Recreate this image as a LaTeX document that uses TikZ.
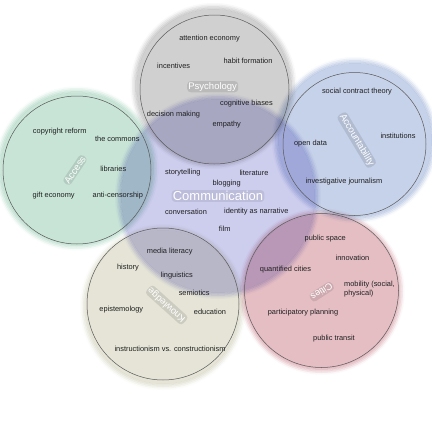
\documentclass[tikz,border=0pt]{standalone}
\usepackage{fontspec}
\setmainfont{Liberation Sans}
\definecolor{psy}{RGB}{208,208,208}
\definecolor{acc}{RGB}{200,228,215}
\definecolor{act}{RGB}{198,210,233}
\definecolor{com}{RGB}{205,205,238}
\definecolor{kno}{RGB}{229,228,215}
\definecolor{cit}{RGB}{229,190,196}
\newcommand\vblob[3]{%
  \fill[#3!12!white, even odd rule] #1 circle ({#2+6}) #1 circle ({#2+4.5});
  \fill[#3!35!white, even odd rule] #1 circle ({#2+4.5}) #1 circle ({#2+3});
  \fill[#3!60!white, even odd rule] #1 circle ({#2+3}) #1 circle ({#2+1.5});
  \fill[#3!85!white, even odd rule] #1 circle ({#2+1.5}) #1 circle (#2);
  \fill[#3] #1 circle (#2);}
\tikzset{
  lbl/.style={font=\fontsize{7.4}{9}\selectfont, text=black!88, inner sep=0pt},
  cat/.style={font=\fontsize{9.5}{11}\selectfont, text=white, inner sep=1.2pt,
    fill=black, fill opacity=0.1, text opacity=1, rounded corners=3.5pt},
  ring/.style={draw=black!65, line width=0.5pt},
}
\begin{document}
\begin{tikzpicture}[x=1pt,y=-1pt]
\useasboundingbox (0,0) rectangle (432,432);
\fill[white] (0,0) rectangle (432,432);
\begin{scope}[blend mode=multiply]
  \vblob{(213.5,86)}{77}{psy}
  \vblob{(76.5,168.5)}{76}{acc}
  \vblob{(355,140)}{77}{act}
  \vblob{(163,307)}{77}{kno}
  \vblob{(321.5,291.5)}{77}{cit}
  \vblob{(218,196)}{97}{com}
\end{scope}
% outlines
\draw[ring] (214.5,89.5) circle (74.5);
\draw[ring] (77,170) circle (74);
\draw[ring] (354.5,144) circle (71.5);
\draw[ring] (163,304) circle (76);
\draw[ring] (321.5,290.5) circle (77);
% category labels
\node[cat] (psyL) at (212.7,86.7) {Psychology};
\node[cat, rotate=56] (accL) at (75,170) {Access};
\node[cat, rotate=-59] (actL) at (356.7,140) {Accountability};
\node[cat, rotate=138] (knoL) at (166.7,305) {Knowledge};
\node[cat, rotate=213] (citL) at (321.7,291.7) {Cities};
\node[cat, font=\fontsize{13}{15}\selectfont, fill opacity=0.08] (comL) at (218,196) {Communication};
% psychology
\node[lbl] (p1) at (209.5,39) {attention economy};
\node[lbl] (p2) at (248,61) {habit formation};
\node[lbl] (p3) at (173.7,66) {incentives};
\node[lbl] (p4) at (246.5,104) {cognitive biases};
\node[lbl] (p5) at (173.5,114.3) {decision making};
\node[lbl] (p6) at (226.7,125) {empathy};
% access
\node[lbl] (a1) at (59.7,132) {copyright reform};
\node[lbl] (a2) at (117.3,139.3) {the commons};
\node[lbl] (a3) at (113.3,169.3) {libraries};
\node[lbl] (a4) at (53.7,196) {gift economy};
\node[lbl] (a5) at (117.8,196) {anti-censorship};
% accountability
\node[lbl] (b1) at (357,91.7) {social contract theory};
\node[lbl] (b2) at (398,136) {institutions};
\node[lbl] (b3) at (310.5,143.3) {open data};
\node[lbl] (b4) at (344,181.7) {investigative journalism};
% communication
\node[lbl] (c1) at (182.8,172.7) {storytelling};
\node[lbl] (c2) at (254,172.7) {literature};
\node[lbl] (c3) at (226.7,184) {blogging};
\node[lbl] (c4) at (186,212) {conversation};
\node[lbl] (c5) at (256.3,212) {identity as narrative};
\node[lbl] (c6) at (224.7,228.7) {film};
% knowledge
\node[lbl] (k1) at (169.7,251.3) {media literacy};
\node[lbl] (k2) at (128,267.7) {history};
\node[lbl] (k3) at (176.7,275.3) {linguistics};
\node[lbl] (k4) at (194.2,293.3) {semiotics};
\node[lbl] (k5) at (121.3,310) {epistemology};
\node[lbl] (k6) at (210,312.3) {education};
\node[lbl] (k7) at (170,349) {instructionism vs. constructionism};
% cities
\node[lbl] (d1) at (325.3,238.7) {public space};
\node[lbl] (d2) at (352.5,257.7) {innovation};
\node[lbl] (d3) at (285.5,270) {quantified cities};
\node[lbl, anchor=west, align=left] (d4) at (344,289) {mobility (social,\\physical)};
\node[lbl] (d5) at (303,312.7) {participatory planning};
\node[lbl] (d6) at (334,339) {public transit};
\end{tikzpicture}
\end{document}
